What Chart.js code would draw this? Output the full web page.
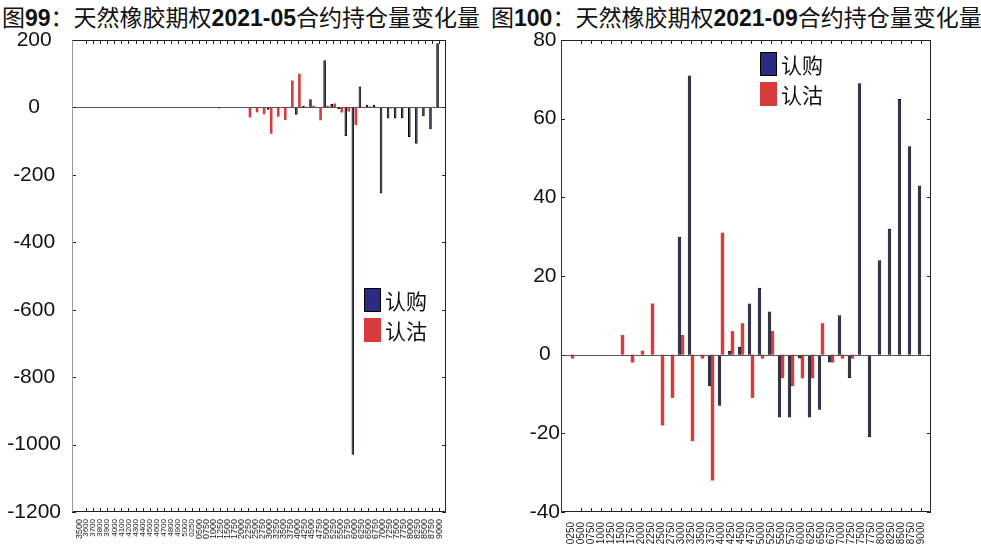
<!DOCTYPE html>
<html lang="zh">
<head>
<meta charset="UTF-8" />
<title>天然橡胶期权合约持仓量变化量</title>
<script src="https://cdn.jsdelivr.net/npm/chart.js"></script>
<style>
  body { margin: 0; background: #fff; width: 981px; height: 547px; overflow: hidden; position: relative; }
  .title { position: absolute; top: 0; font-family: "Liberation Sans", "Noto Sans CJK SC", sans-serif; font-size: 23px; line-height: 36px; white-space: nowrap; color: #111; }
  .title b { font-weight: bold; }
  .panel { position: absolute; top: 0; }
  .legend { position: absolute; font-family: "Noto Sans CJK SC", sans-serif; font-size: 21px; color: #111; }
  .legend div { display: flex; align-items: center; height: 30px; }
  .legend .box { display: inline-block; width: 15px; height: 22px; border: 1px solid #000; margin-right: 4px; }
</style>
</head>
<body>
<div class="title" style="left:2px">图<b>99</b>：天然橡胶期权<b>2021-05</b>合约持仓量变化量</div>
<div class="title" style="left:491px">图<b>100</b>：天然橡胶期权<b>2021-09</b>合约持仓量变化量</div>

<canvas id="left" class="panel" style="left:0" width="457" height="547"></canvas>
<canvas id="right" class="panel" style="left:490px" width="491" height="547"></canvas>
<div id="legendLeft" class="legend" style="left:364px; top:285px"></div>
<div id="legendRight" class="legend" style="left:760px; top:49px"></div>

<script>
  // 图99: 2021-05 合约
  const leftLabels = [
    "3500", "3600", "3700", "3800", "3900", "4000", "4100", "4200",
    "4300", "4400", "4500", "4600", "4700", "4800", "4900", "5000",
    "0250", "0500", "0750", "1000", "1250", "1500", "1750", "2000", "2250",
    "2500", "2750", "3000", "3250", "3500", "3750", "4000", "4250", "4500",
    "4750", "5000", "5250", "5500", "5750", "6000", "6250", "6500", "6750",
    "7000", "7250", "7500", "7750", "8000", "8250", "8500", "8750", "9000"
  ];
  const leftCall = [
    0, 0, 0, 0, 0, 0, 0, 0, 0, 0, 0, 0, 0, 0, 0, 0, 0, 0, 0, 0, -3, 0, 0, 0,
    0, 0, 0, -7, -2, -2, 0, -22, 5, 24, 0, 140, 10, -5, -85, -1030, 62, 8, 8,
    -255, -33, -33, -32, -88, -108, -26, -65, 190
  ];
  const leftPut = [
    0, 0, 0, 0, 0, 0, 0, 0, 0, 0, 0, 0, 0, 0, 0, 0, 0, 0, 0, 0, 0, 0, -2, 0,
    -30, -14, -20, -78, -28, -37, 80, 100, 2, 5, -38, 5, 12, -15, -12, -52, 0,
    3, -2, 0, -3, -2, 0, 0, 0, -2, 0, 0
  ];
  const leftTicks = { min: -1200, max: 200, step: 200 };

  // 图100: 2021-09 合约
  const rightLabels = [
    "0250", "0500", "0750", "1000", "1250", "1500", "1750", "2000", "2250",
    "2500", "2750", "3000", "3250", "3500", "3750", "4000", "4250", "4500",
    "4750", "5000", "5250", "5500", "5750", "6000", "6250", "6500", "6750",
    "7000", "7250", "7500", "7750", "8000", "8250", "8500", "8750", "9000"
  ];
  const rightCall = [
    0, 0, 0, 0, 0, 0, 0, 0, 0, 0, 0, 30, 71, 0, -8, -13, 1, 2, 13, 17, 11,
    -16, -16, -1, -16, -14, -2, 10, -6, 69, -21, 24, 32, 65, 53, 43
  ];
  const rightPut = [
    -1, 0, 0, 0, 0, 5, -2, 1, 13, -18, -11, 5, -22, -1, -32, 31, 6, 8, -11,
    -1, 6, -6, -8, -6, -6, 8, -2, -1, -1, 0, 0, 0, 0, 0, 0, 0
  ];
  const rightTicks = { min: -40, max: 80, step: 20 };

  const seriesNames = ["认购", "认沽"];
  const callColor = "#2b2b82";
  const putColor = "#d83b3b";

  // one empty slot at each end, like the original's axis limits
  const pad = (arr) => [null, ...arr, null];

  // zero line, frame and inward tick marks
  const framePlugin = {
    id: "frame",
    afterDatasetsDraw(chart) {
      const { ctx, chartArea: a, scales } = chart;
      const x = scales.x, y = scales.y;
      ctx.save();
      ctx.lineWidth = 1;

      const y0 = Math.round(y.getPixelForValue(0)) + 0.5;
      ctx.strokeStyle = "#555";
      ctx.beginPath();
      ctx.moveTo(a.left, y0);
      ctx.lineTo(a.right, y0);
      ctx.stroke();

      ctx.strokeStyle = "#222";
      ctx.beginPath();
      x.ticks.forEach((t, i) => {
        if (!chart.data.labels[i]) return;
        const px = Math.round(x.getPixelForTick(i)) + 0.5;
        ctx.moveTo(px, a.bottom);
        ctx.lineTo(px, a.bottom - 4);
        ctx.moveTo(px, a.top);
        ctx.lineTo(px, a.top + 4);
      });
      y.ticks.forEach((t, i) => {
        const py = Math.round(y.getPixelForTick(i)) + 0.5;
        ctx.moveTo(a.left, py);
        ctx.lineTo(a.left + 4, py);
        ctx.moveTo(a.right, py);
        ctx.lineTo(a.right - 4, py);
      });
      ctx.stroke();

      const l = Math.round(a.left) + 0.5, r = Math.round(a.right) - 0.5;
      const t = Math.round(a.top) + 0.5, b = Math.round(a.bottom) - 0.5;
      ctx.beginPath();
      ctx.moveTo(l, b); ctx.lineTo(r, b); ctx.lineTo(r, t); ctx.lineTo(l, t);
      ctx.stroke();
      ctx.strokeStyle = chart.options.plugins.frame.spine;
      ctx.beginPath();
      ctx.moveTo(l, t); ctx.lineTo(l, b);
      ctx.stroke();
      ctx.restore();
    }
  };

  function makeChart(id, cfg) {
    return new Chart(document.getElementById(id), {
      type: "bar",
      data: {
        labels: pad(cfg.labels),
        datasets: [
          { label: seriesNames[0], data: pad(cfg.call), backgroundColor: cfg.callFill, borderColor: "#000", borderWidth: 1, borderSkipped: false },
          { label: seriesNames[1], data: pad(cfg.put), backgroundColor: putColor, borderWidth: 0 }
        ]
      },
      options: {
        responsive: false,
        animation: false,
        devicePixelRatio: 1,
        categoryPercentage: cfg.catPct,
        barPercentage: cfg.barPct,
        layout: { padding: { top: 40, right: cfg.padRight, left: 0, bottom: 0 } },
        plugins: {
          legend: { display: false },
          tooltip: { enabled: false },
          frame: { spine: cfg.spine }
        },
        scales: {
          x: {
            offset: false,
            grid: { display: false, drawTicks: false },
            border: { display: false },
            afterFit: (s) => { s.height = 35; },
            ticks: {
              autoSkip: false,
              maxRotation: 90,
              minRotation: 90,
              padding: cfg.xPad,
              color: "#222",
              font: cfg.xFont
            }
          },
          y: {
            min: cfg.ticks.min,
            max: cfg.ticks.max,
            grid: { display: false, drawTicks: false },
            border: { display: false },
            afterFit: (s) => { s.width = cfg.yWidth; },
            ticks: {
              stepSize: cfg.ticks.step,
              crossAlign: "center",
              padding: cfg.yPad,
              color: "#111",
              font: { family: "Liberation Sans", size: 21 },
              callback: (v) => String(v)
            }
          }
        }
      },
      plugins: [framePlugin]
    });
  }

  const firstGroup = 16;
  const left = makeChart("left", {
    labels: leftLabels, call: leftCall, put: leftPut, ticks: leftTicks,
    callFill: "#14142e",
    catPct: 0.86, barPct: 0.86, padRight: 7, yWidth: 72, yPad: 11, xPad: 7,
    spine: "#999",
    xFont: (c) => ({ family: "Liberation Sans", size: c.index > 0 && c.index <= firstGroup ? 8 : 9 })
  });
  const right = makeChart("right", {
    labels: rightLabels, call: rightCall, put: rightPut, ticks: rightTicks,
    callFill: callColor,
    catPct: 0.6, barPct: 1.15, padRight: 50, yWidth: 71, yPad: 1, xPad: 10,
    spine: "#333",
    xFont: { family: "Liberation Sans", size: 10 }
  });

  function buildLegend(el) {
    [callColor, putColor].forEach((color, i) => {
      const row = document.createElement("div");
      const box = document.createElement("span");
      box.className = "box";
      box.style.background = color;
      box.style.borderColor = i === 0 ? "#000" : color;
      row.appendChild(box);
      row.appendChild(document.createTextNode(seriesNames[i]));
      el.appendChild(row);
    });
  }
  buildLegend(document.getElementById("legendLeft"));
  buildLegend(document.getElementById("legendRight"));
</script>
</body>
</html>
